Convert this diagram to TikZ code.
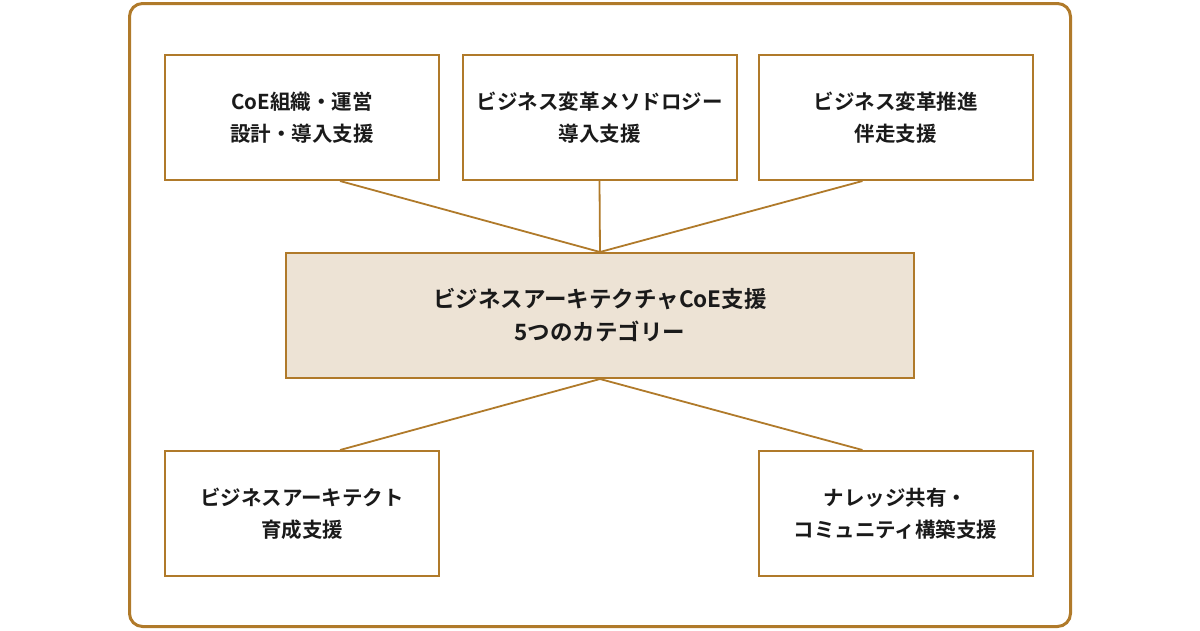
\documentclass[tikz,border=0pt]{standalone}
\usepackage{fontspec}
\newfontfamily\jpfont{Noto Sans CJK JP}[BoldFont={* Bold}]
\definecolor{gold}{HTML}{B07A2A}
\definecolor{beige}{HTML}{EDE3D5}
\definecolor{ink}{HTML}{1A1A1A}
\begin{document}
\begin{tikzpicture}[x=1pt,y=-1pt,
  box/.style={draw=gold,line width=2pt,fill=white,minimum width=274pt,minimum height=125pt,
    inner sep=0pt,align=center,font=\jpfont\bfseries\fontsize{20.5}{32}\selectfont,text=ink},
  link/.style={draw=gold,line width=1.8pt}]
\useasboundingbox (0,0) rectangle (1200,630);
\fill[white] (0,0) rectangle (1200,630);
\draw[gold,line width=3pt,rounded corners=13pt] (129.5,3.5) rectangle (1070.5,626.5);
\node[box] (b1) at (302,117.5) {CoE組織・運営\\設計・導入支援};
\node[box] (b2) at (599.5,117.5) {ビジネス変革メソドロジー\\導入支援};
\node[box] (b3) at (895.5,117.5) {ビジネス変革推進\\伴走支援};
\node[box,fill=beige,minimum width=628pt,font=\jpfont\bfseries\fontsize{22.5}{33}\selectfont] (cen) at (600,315.5) {ビジネスアーキテクチャCoE支援\\5つのカテゴリー};
\node[box] (b4) at (302,513.5) {ビジネスアーキテクト\\育成支援};
\node[box] (b5) at (895.5,513.5) {ナレッジ共有・\\コミュニティ構築支援};
\draw[link] ([xshift=38pt]b1.south) -- (cen.north);
\draw[link] (b2.south) -- (cen.north);
\draw[link] ([xshift=-33pt]b3.south) -- (cen.north);
\draw[link] (cen.south) -- ([xshift=38pt]b4.north);
\draw[link] (cen.south) -- ([xshift=-33pt]b5.north);
\end{tikzpicture}
\end{document}
